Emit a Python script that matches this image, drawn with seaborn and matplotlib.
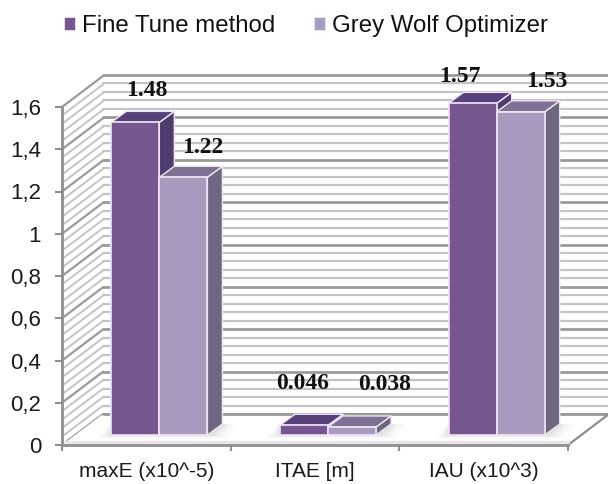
import matplotlib
matplotlib.use("Agg")
import matplotlib.pyplot as plt
from matplotlib.patches import Polygon
from matplotlib.lines import Line2D
from matplotlib.ticker import MultipleLocator
from matplotlib.transforms import Affine2D, IdentityTransform
import numpy as np
import pandas as pd
import seaborn as sns

categories = ["maxE (x10^-5)", "ITAE [m]", "IAU (x10^3)"]
series_names = ["Fine Tune method", "Grey Wolf Optimizer"]
fine_tune = [1.48, 0.046, 1.57]
grey_wolf = [1.22, 0.038, 1.53]
fine_labels = ["1.48", "0.046", "1.57"]
grey_labels = ["1.22", "0.038", "1.53"]
y_ticks = [0, 0.2, 0.4, 0.6, 0.8, 1, 1.2, 1.4, 1.6]
y_tick_labels = ["0", "0,2", "0,4", "0,6", "0,8", "1", "1,2", "1,4", "1,6"]

W, H = 608, 484
FRONT = ["#76568F", "#A89ABF"]
TOP = ["#59407A", "#7E7194"]
SIDE = ["#4F3B6E", "#6F667F"]
EDGE = "#EFE6F5"
AXIS = "#8E8E8E"
MAJOR = "#9A9A9A"
MINOR = "#C4C4C4"

sns.set_theme(style="white")
plt.rcParams["font.family"] = ["Liberation Sans", "DejaVu Sans"]

fig = plt.figure(figsize=(W / 100, H / 100), dpi=100, facecolor="white")


def rect(left, top, right, bottom):
    return [left / W, (H - bottom) / H, (right - left) / W, (bottom - top) / H]


# back wall of the 3D box
wall = fig.add_axes(rect(103, 75, 640, 414), facecolor="none", zorder=1)
wall.set_ylim(0, 1.6)
wall.set_xlim(0, 1)
wall.yaxis.set_major_locator(MultipleLocator(0.2))
wall.yaxis.set_minor_locator(MultipleLocator(0.04))
wall.grid(True, which="major", axis="y", color=MAJOR, lw=2.0, clip_on=False)
wall.grid(True, which="minor", axis="y", color=MINOR, lw=1.6, clip_on=False)
wall.tick_params(which="both", length=0, labelleft=False, labelbottom=False)
for s in wall.spines.values():
    s.set_visible(False)

ax = fig.add_axes(rect(62, 107, 568, 445), facecolor="none", zorder=2)

df = pd.DataFrame(
    {
        "metric": categories * 2,
        "method": [series_names[0]] * 3 + [series_names[1]] * 3,
        "value": fine_tune + grey_wolf,
    }
)
sns.barplot(
    data=df, x="metric", y="value", hue="method", hue_order=series_names,
    palette=FRONT, saturation=1, width=0.57, gap=0, edgecolor=EDGE,
    linewidth=1.2, ax=ax,
)
ax.set_xlim(-0.5, 2.5)
ax.set_ylim(0, 1.6)
ax.set_xlabel("")
ax.set_ylabel("")
ax.set_yticks(y_ticks, y_tick_labels)
ax.set_xticks(range(3), categories)
ax.set_xticks(np.arange(-0.5, 3), minor=True)
ax.tick_params(axis="x", which="major", length=0, pad=12, labelsize=15, labelcolor="#1a1a1a")
ax.tick_params(axis="x", which="minor", length=4, width=1.5, color=AXIS, bottom=True)
ax.tick_params(axis="y", length=5, width=1.5, color=AXIS, left=True, pad=10, labelsize=16, labelcolor="#1a1a1a")
for side in ["top", "right"]:
    ax.spines[side].set_visible(False)
for side in ["left", "bottom"]:
    ax.spines[side].set_color(AXIS)
    ax.spines[side].set_linewidth(2)

fig.canvas.draw()

DX_WALL, DY_WALL = 41, 31   # box depth in pixels (up = positive)
SHIFT = (13, 10)            # bars stand this far inside the floor
DEPTH = (15, 11)            # bar depth


def to_px(x, y):
    return ax.transData.transform((x, y))


# left wall stripes
for v in np.arange(0, 1.6001, 0.04):
    x0, y0 = to_px(-0.5, v)
    is_major = abs(v / 0.2 - round(v / 0.2)) < 1e-6
    fig.add_artist(Line2D([x0, x0 + DX_WALL], [y0, y0 + DY_WALL], transform=IdentityTransform(),
                          color=MAJOR if is_major else MINOR, lw=1.6 if is_major else 1.4, zorder=1.5))

# floor
p0, p1 = to_px(-0.5, 0), to_px(2.5, 0)
fig.add_artist(Polygon([p0, p1, p1 + [DX_WALL, DY_WALL], p0 + [DX_WALL, DY_WALL]],
                       transform=IdentityTransform(), facecolor="white", edgecolor="none", zorder=1.6))
fig.add_artist(Line2D([p0[0] + DX_WALL, W], [p0[1] + DY_WALL, p0[1] + DY_WALL], transform=IdentityTransform(),
                      color=MAJOR, lw=2, zorder=1.7))
fig.add_artist(Line2D([p1[0], p1[0] + DX_WALL], [p1[1], p1[1] + DY_WALL], transform=IdentityTransform(),
                      color=AXIS, lw=1.6, zorder=1.7))
fig.add_artist(Line2D([p0[0], p1[0]], [p0[1] + 3, p1[1] + 3], transform=IdentityTransform(),
                      color="#E9E5EE", lw=2.5, zorder=1.7))

# 3D faces built from the bars seaborn drew
shift_tf = Affine2D().translate(*SHIFT)
label_offsets = [[(12, 32), (-1, 42), (-13, 27)], [(19, 30), (33, 42), (26, 30)]]
label_texts = [fine_labels, grey_labels]
z = 3
for cat in range(3):
    # soft shadow on the floor
    bar0 = ax.containers[0][cat]
    bar1 = ax.containers[1][cat]
    lx, _ = to_px(bar0.get_x(), 0)
    rx, _ = to_px(bar1.get_x() + bar1.get_width(), 0)
    by = to_px(0, 0)[1] + SHIFT[1]
    for grow, alpha in zip([14, 9, 5, 2], [0.04, 0.05, 0.06, 0.07]):
        ax.add_patch(Polygon(
            [(lx + SHIFT[0] - grow, by - grow * 0.25), (rx + SHIFT[0] + 4 + grow, by - grow * 0.25),
             (rx + SHIFT[0] + DEPTH[0] + grow, by + DEPTH[1]), (lx + SHIFT[0], by + DEPTH[1])],
            transform=IdentityTransform(), facecolor="#707070", edgecolor="none",
            alpha=alpha, zorder=2.5, clip_on=False))
    for s in range(2):
        bar = ax.containers[s][cat]
        x, w, h = bar.get_x(), bar.get_width(), bar.get_height()
        (xl, yb) = to_px(x, 0) + SHIFT
        (xr, yt) = to_px(x + w, h) + SHIFT
        dx, dy = DEPTH
        bar.set_transform(ax.transData + shift_tf)
        bar.set_clip_on(False)
        bar.set_zorder(z + 2)
        ax.add_patch(Polygon([(xr, yb), (xr + dx, yb + dy), (xr + dx, yt + dy), (xr, yt)],
                             transform=IdentityTransform(), facecolor=SIDE[s], edgecolor=EDGE,
                             lw=1, zorder=z, clip_on=False))
        ax.add_patch(Polygon([(xl, yt), (xr, yt), (xr + dx, yt + dy), (xl + dx, yt + dy)],
                             transform=IdentityTransform(), facecolor=TOP[s], edgecolor=EDGE,
                             lw=1, zorder=z + 1, clip_on=False))
        z += 3
        ax.annotate(label_texts[s][cat], xy=(x + w / 2, h), xycoords="data",
                    xytext=(SHIFT[0] + label_offsets[s][cat][0], SHIFT[1] + label_offsets[s][cat][1]),
                    textcoords="offset pixels", ha="center", va="center",
                    family="Liberation Serif", fontweight="bold", fontsize=17, color="#111111",
                    zorder=100, annotation_clip=False)

ax.set_xlim(-0.5, 2.5)
ax.set_ylim(0, 1.6)

sns.move_legend(
    ax, "center left", bbox_to_anchor=(0, 0), bbox_transform=IdentityTransform(),
    ncol=2, frameon=False, title=None, fontsize=17.3, handlelength=0.45, handleheight=0.45,
    handletextpad=0.28, columnspacing=1.65, borderpad=0, borderaxespad=0, labelcolor="#111111",
)
leg = ax.get_legend()
leg.set_bbox_to_anchor((64, H - 26), transform=IdentityTransform())
for h in leg.get_patches():
    h.set_linewidth(0.6)

fig.savefig("out.png", dpi=100, facecolor="white")
